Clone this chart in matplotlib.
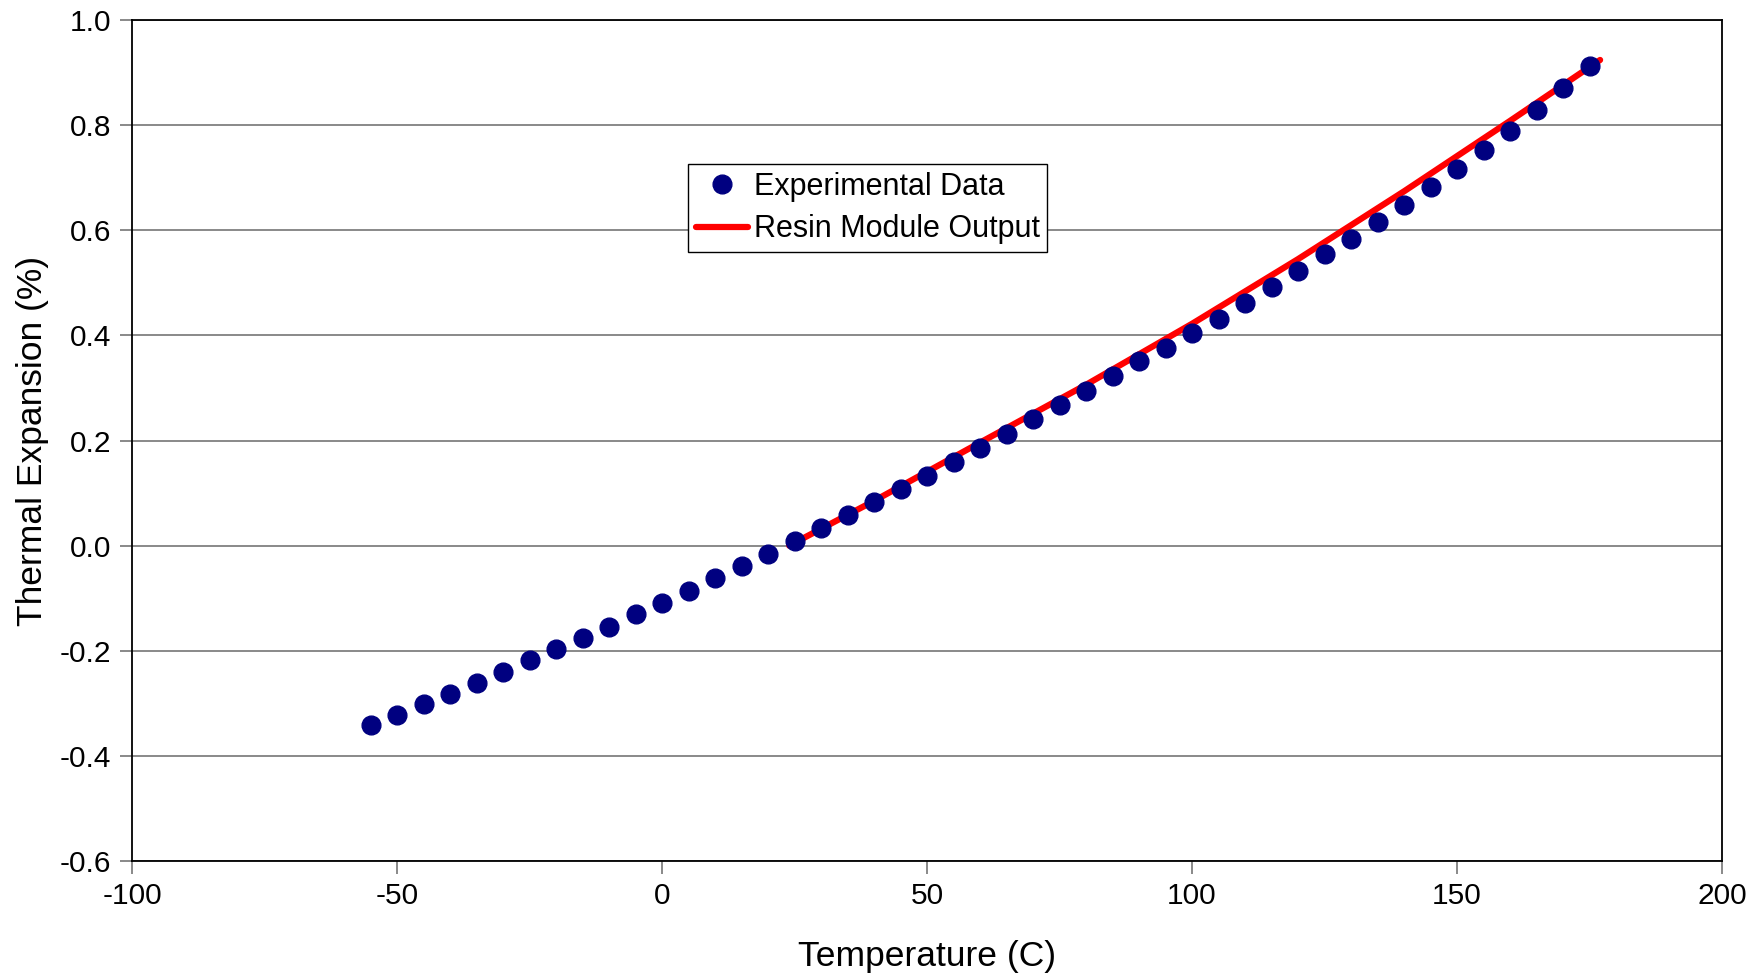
import matplotlib
matplotlib.use("Agg")
import matplotlib.pyplot as plt
import numpy as np

plt.rcParams['font.family'] = ['Liberation Sans', 'DejaVu Sans']
plt.rcParams['axes.unicode_minus'] = False

# experimental data
temps = np.arange(-55, 180, 5)
expansion = [-0.342, -0.323, -0.302, -0.282, -0.261, -0.240, -0.218, -0.197,
             -0.175, -0.154, -0.130, -0.109, -0.086, -0.062, -0.039, -0.015,
             0.009, 0.034, 0.058, 0.083, 0.107, 0.133, 0.160, 0.186, 0.212,
             0.240, 0.267, 0.295, 0.323, 0.351, 0.376, 0.404, 0.432, 0.462,
             0.492, 0.522, 0.554, 0.584, 0.616, 0.648, 0.682, 0.717, 0.753,
             0.789, 0.828, 0.871, 0.913]

# resin module output
model_temps = [24, 40, 60, 80, 100, 120, 140, 160, 177]
model_vals = [0.000, 0.085, 0.196, 0.306, 0.422, 0.545, 0.674, 0.808, 0.924]

fig = plt.figure(figsize=(17.65, 9.77), dpi=100)
ax = fig.add_axes([132/1765, 1 - 861/977, 1590/1765, 841/977])

ax.plot(model_temps, model_vals, color='#ff0000', lw=4.5, solid_capstyle='round',
        label='Resin Module Output', zorder=3)
ax.plot(temps, expansion, 'o', color='#000080', ms=13.5, mec='#000080',
        label='Experimental Data', zorder=4)

ax.set_xlim(-100, 200)
ax.set_ylim(-0.6, 1.0)
ax.set_xticks(np.arange(-100, 201, 50))
ax.set_yticks(np.arange(-0.6, 1.01, 0.2))
ax.set_yticklabels(['%.1f' % v for v in np.arange(-0.6, 1.01, 0.2)])
ax.yaxis.grid(True, color='#808080', lw=1.3)
ax.set_axisbelow(True)
for s in ax.spines.values():
    s.set_color('black')
    s.set_linewidth(1.3)
ax.tick_params(direction='out', length=9, width=1.3, color='#808080',
               labelsize=21.5, pad=6)

ax.set_xlabel('Temperature (C)', fontsize=25.5, labelpad=22)
ax.set_ylabel('Thermal Expansion (%)', fontsize=25.5, labelpad=8)

h, l = ax.get_legend_handles_labels()
leg = ax.legend(h[::-1], l[::-1], loc='upper left',
                bbox_to_anchor=((688 - 132) / 1590, (861 - 164) / 841),
                fontsize=22, frameon=True, fancybox=False, framealpha=1,
                edgecolor='black', borderpad=0.25, handlelength=1.7,
                handletextpad=0.2, labelspacing=0.42, borderaxespad=0)
leg.get_frame().set_linewidth(1.0)

fig.savefig('out.png', dpi=100)
